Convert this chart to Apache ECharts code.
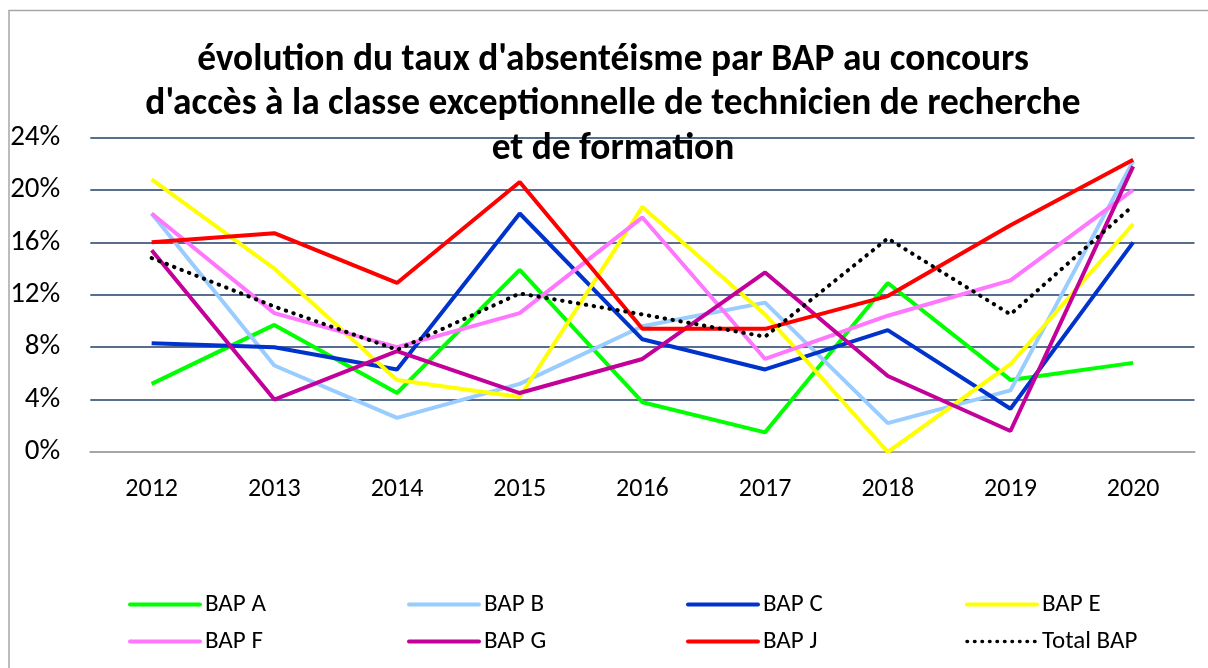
<!DOCTYPE html>
<html><head><meta charset="utf-8">
<script src="https://cdn.jsdelivr.net/npm/echarts@6/dist/echarts.min.js"></script>
<style>html,body{margin:0;padding:0;background:#fff}#c{width:1208px;height:668px}</style>
</head><body><div id="c"></div>
<script>
const titleText = "évolution du taux d'absentéisme par BAP au concours\nd'accès à la classe exceptionnelle de technicien de recherche\net de formation";
const years = ['2012','2013','2014','2015','2016','2017','2018','2019','2020'];
const yTicks = [0, 4, 8, 12, 16, 20, 24];
const bapA = [5.2, 9.7, 4.5, 13.9, 3.8, 1.5, 12.9, 5.5, 6.8];
const bapB = [18.2, 6.6, 2.6, 5.2, 9.6, 11.4, 2.2, 4.7, 22.2];
const bapC = [8.3, 8.0, 6.3, 18.2, 8.6, 6.3, 9.3, 3.3, 16.0];
const bapE = [20.8, 14.0, 5.5, 4.2, 18.7, 10.5, 0.0, 6.7, 17.4];
const bapF = [18.2, 10.6, 8.0, 10.6, 17.9, 7.1, 10.4, 13.1, 20.0];
const bapG = [15.4, 4.0, 7.7, 4.5, 7.1, 13.7, 5.8, 1.6, 21.8];
const bapJ = [16.0, 16.7, 12.9, 20.6, 9.4, 9.4, 11.9, 17.3, 22.3];
const total = [14.8, 11.1, 7.8, 12.1, 10.5, 8.8, 16.3, 10.5, 18.8];
const names = ['BAP A','BAP B','BAP C','BAP E','BAP F','BAP G','BAP J','Total BAP'];
const colors = ['#00ff00','#99ccff','#0033cc','#ffff00','#ff77ff','#c4009a','#ff0000','#000000'];
const values = [bapA,bapB,bapC,bapE,bapF,bapG,bapJ,total];

const font = 'Calibri, Carlito, Lato, sans-serif';
const dotted = [0.5, 7.5];
const series = names.map((n,i)=>({
  name: n, type: 'line', data: values[i], showSymbol: false, symbol: 'none',
  lineStyle: i===7 ? {color: colors[i], width: 4, type: dotted, cap: 'round'} : {color: colors[i], width: 4},
  itemStyle: {color: colors[i]},
  z: 2 + i, animation: false
}));
const legendCols = [[0,4],[1,5],[2,6],[3,7]];
const legendLeft = [123, 402, 681, 960];
const legends = legendCols.map((c,k)=>({
  orient: 'vertical', left: legendLeft[k], top: 587, itemGap: 12,
  itemWidth: 70, itemHeight: 30,
  itemStyle: {opacity: 0},
  data: c.map(i=>({name: names[i],
    lineStyle: i===7 ? {width: 3.5, type: [0.5, 7], cap: 'round', color: colors[i]} : {width: 4, color: colors[i], cap: 'round'}})),
  textStyle: {fontFamily: font, fontSize: 25, color: '#000', padding: [0,0,0,0]},
  selectedMode: false
}));
const chart = echarts.init(document.getElementById('c'), null, {renderer: 'canvas'});
chart.setOption({
  animation: false,
  backgroundColor: '#fff',
  title: {text: titleText, left: 613, textAlign: 'center', top: 38, padding: 0,
    textStyle: {fontFamily: font, fontWeight: 'bold', fontSize: 37.4, lineHeight: 44.5, color: '#000'}},
  graphic: [{type: 'rect', shape: {x: 9, y: 10.5, width: 1220, height: 700}, style: {fill: null, stroke: '#a6a6a6', lineWidth: 1.5}, silent: true, z: -1}],
  grid: {left: 90.3, right: 13.5, top: 137.5, bottom: 216},
  xAxis: {type: 'category', data: years, boundaryGap: true,
    axisLine: {lineStyle: {color: '#a6a6a6', width: 2}}, axisTick: {show: false},
    axisLabel: {fontFamily: font, fontSize: 26, color: '#000', margin: 24}},
  yAxis: {type: 'value', min: 0, max: 24, interval: 4,
    axisLine: {show: false}, axisTick: {show: false},
    axisLabel: {fontFamily: font, fontSize: 29, color: '#000', margin: 30, formatter: v=>yTicks.includes(v)? v+'%' : ''},
    splitLine: {lineStyle: {color: '#1f3e6a', width: 1.5}}},
  legend: legends,
  series: series
});
</script></body></html>
